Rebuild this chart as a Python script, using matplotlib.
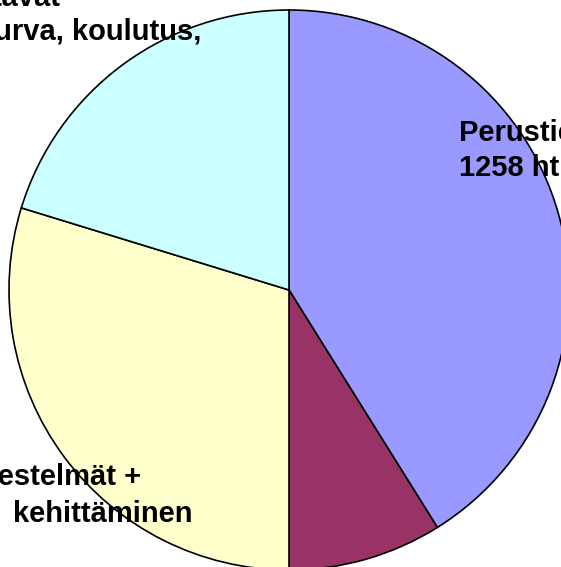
import matplotlib
matplotlib.use("Agg")
import matplotlib.pyplot as plt

# slice values (ht), clockwise from top
labels = ["Perustienpito", "Muut", "Järjestelmät", "Tukitoiminnot"]
values = [1258, 272, 910, 620]
colors = ["#9999FF", "#993366", "#FFFFCC", "#CCFFFF"]

# label text lines (partly cut off by the crop in the original)
right_lines = ["Perustienpito", "1258 ht"]
topleft_lines = ["Muut vastaavat", "toiminnot: turva, koulutus,"]
botleft_lines = ["Tietojärjestelmät +", "kehittäminen"]

W, H = 561, 567
fig = plt.figure(figsize=(W / 100, H / 100), dpi=100)
ax = fig.add_axes([0, 0, 1, 1])
ax.set_xlim(0, W)
ax.set_ylim(0, H)
ax.set_aspect("equal")
ax.axis("off")

ax.pie(values, colors=colors, startangle=90, counterclock=False,
       center=(289, H - 290), radius=280,
       wedgeprops=dict(edgecolor="black", linewidth=1.2))
ax.set_xlim(0, W)
ax.set_ylim(0, H)

font = dict(fontsize=21, fontweight="bold", family="Liberation Sans", color="black")

ax.text(459, H - 141, right_lines[0], ha="left", va="baseline", **font)
ax.text(459, H - 176, right_lines[1], ha="left", va="baseline", **font)

ax.text(60, H - 6, topleft_lines[0], ha="right", va="baseline", **font)
ax.text(201, H - 40, topleft_lines[1], ha="right", va="baseline", **font)

ax.text(141, H - 485, botleft_lines[0], ha="right", va="baseline", **font)
ax.text(193, H - 522, botleft_lines[1], ha="right", va="baseline", **font)

fig.savefig("out.png", dpi=100)
